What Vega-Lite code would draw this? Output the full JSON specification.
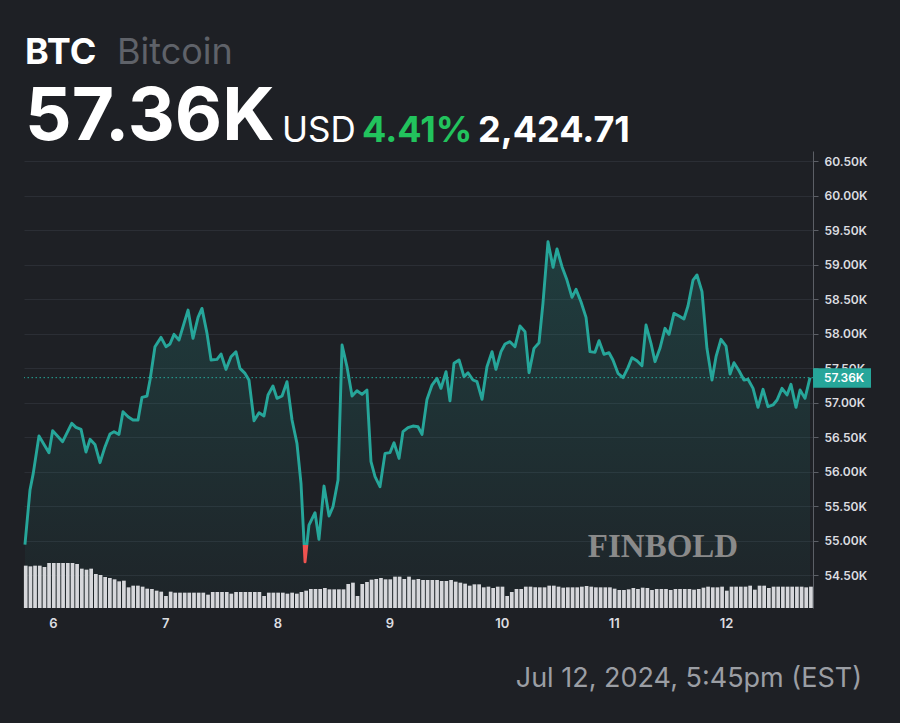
{
"$schema":"https://vega.github.io/schema/vega-lite/v6.json",
"width":789,"height":457,
"autosize":{"type":"none"},
"padding":{"left":24,"top":151,"right":87,"bottom":115},
"background":"#1e2025",
"config":{"view":{"stroke":null},"font":"Inter","text":{"font":"Inter"},"scale":{"continuousPadding":0}},
"datasets":{
"one":[{}],
"price":[
{"day":5.750,"price":54940},{"day":5.795,"price":55732},{"day":5.824,"price":55973},{"day":5.875,"price":56514},{"day":5.964,"price":56273},{"day":5.997,"price":56591},{"day":6.086,"price":56432},{"day":6.167,"price":56698},{"day":6.205,"price":56640},{"day":6.250,"price":56611},{"day":6.294,"price":56282},{"day":6.330,"price":56466},{"day":6.374,"price":56393},{"day":6.419,"price":56128},{"day":6.464,"price":56360},{"day":6.508,"price":56543},{"day":6.544,"price":56577},{"day":6.588,"price":56538},{"day":6.624,"price":56867},{"day":6.669,"price":56794},{"day":6.713,"price":56746},{"day":6.758,"price":56746},{"day":6.793,"price":57074},{"day":6.838,"price":57094},{"day":6.865,"price":57326},{"day":6.909,"price":57809},{"day":6.963,"price":57944},{"day":7.007,"price":57809},{"day":7.043,"price":57847},{"day":7.079,"price":57988},{"day":7.123,"price":57905},{"day":7.168,"price":58147},{"day":7.204,"price":58340},{"day":7.248,"price":57930},{"day":7.293,"price":58234},{"day":7.328,"price":58364},{"day":7.373,"price":58002},{"day":7.409,"price":57616},{"day":7.462,"price":57625},{"day":7.498,"price":57703},{"day":7.542,"price":57480},{"day":7.587,"price":57664},{"day":7.631,"price":57736},{"day":7.667,"price":57495},{"day":7.712,"price":57422},{"day":7.747,"price":57326},{"day":7.792,"price":56736},{"day":7.837,"price":56852},{"day":7.881,"price":56804},{"day":7.917,"price":57108},{"day":7.961,"price":57239},{"day":7.997,"price":57060},{"day":8.042,"price":57094},{"day":8.086,"price":57302},{"day":8.131,"price":56746},{"day":8.175,"price":56408},{"day":8.211,"price":55828},{"day":8.247,"price":54690},{"day":8.282,"price":55224},{"day":8.336,"price":55403},{"day":8.371,"price":55016},{"day":8.416,"price":55789},{"day":8.461,"price":55355},{"day":8.496,"price":55490},{"day":8.541,"price":55876},{"day":8.577,"price":57833},{"day":8.621,"price":57519},{"day":8.666,"price":57094},{"day":8.710,"price":57171},{"day":8.755,"price":57118},{"day":8.799,"price":57181},{"day":8.835,"price":56142},{"day":8.871,"price":55925},{"day":8.915,"price":55780},{"day":8.960,"price":56263},{"day":9.004,"price":56273},{"day":9.040,"price":56417},{"day":9.085,"price":56190},{"day":9.120,"price":56577},{"day":9.165,"price":56635},{"day":9.209,"price":56659},{"day":9.254,"price":56649},{"day":9.290,"price":56538},{"day":9.334,"price":57045},{"day":9.379,"price":57253},{"day":9.423,"price":57350},{"day":9.459,"price":57205},{"day":9.504,"price":57446},{"day":9.539,"price":57024},{"day":9.575,"price":57568},{"day":9.620,"price":57616},{"day":9.664,"price":57374},{"day":9.700,"price":57432},{"day":9.744,"price":57326},{"day":9.780,"price":57302},{"day":9.825,"price":57046},{"day":9.869,"price":57519},{"day":9.914,"price":57737},{"day":9.949,"price":57481},{"day":9.994,"price":57737},{"day":10.030,"price":57848},{"day":10.074,"price":57882},{"day":10.119,"price":57809},{"day":10.163,"price":58109},{"day":10.208,"price":58027},{"day":10.244,"price":57432},{"day":10.288,"price":57785},{"day":10.333,"price":57867},{"day":10.368,"price":58437},{"day":10.413,"price":59331},{"day":10.458,"price":58959},{"day":10.493,"price":59225},{"day":10.538,"price":58969},{"day":10.582,"price":58775},{"day":10.627,"price":58524},{"day":10.663,"price":58640},{"day":10.707,"price":58461},{"day":10.752,"price":58234},{"day":10.787,"price":57737},{"day":10.832,"price":57727},{"day":10.868,"price":57896},{"day":10.912,"price":57698},{"day":10.957,"price":57722},{"day":10.992,"price":57616},{"day":11.037,"price":57423},{"day":11.082,"price":57360},{"day":11.126,"price":57505},{"day":11.162,"price":57650},{"day":11.206,"price":57606},{"day":11.251,"price":57534},{"day":11.287,"price":58123},{"day":11.331,"price":57858},{"day":11.367,"price":57592},{"day":11.411,"price":57785},{"day":11.456,"price":58075},{"day":11.492,"price":57988},{"day":11.536,"price":58292},{"day":11.581,"price":58254},{"day":11.625,"price":58210},{"day":11.661,"price":58399},{"day":11.706,"price":58775},{"day":11.741,"price":58848},{"day":11.786,"price":58606},{"day":11.830,"price":57785},{"day":11.875,"price":57326},{"day":11.911,"price":57664},{"day":11.955,"price":57916},{"day":12.000,"price":57819},{"day":12.036,"price":57413},{"day":12.071,"price":57577},{"day":12.116,"price":57461},{"day":12.160,"price":57326},{"day":12.196,"price":57336},{"day":12.241,"price":57205},{"day":12.285,"price":56930},{"day":12.330,"price":57191},{"day":12.374,"price":56940},{"day":12.419,"price":56964},{"day":12.455,"price":57036},{"day":12.499,"price":57205},{"day":12.544,"price":57109},{"day":12.579,"price":57263},{"day":12.624,"price":56930},{"day":12.660,"price":57181},{"day":12.704,"price":57060},{"day":12.749,"price":57360}
],
"volume":[
{"day":5.757,"vol":127},{"day":5.799,"vol":125},{"day":5.840,"vol":127},{"day":5.882,"vol":127},{"day":5.924,"vol":123},{"day":5.965,"vol":135},{"day":6.007,"vol":135},{"day":6.049,"vol":135},{"day":6.090,"vol":135},{"day":6.132,"vol":135},{"day":6.174,"vol":135},{"day":6.215,"vol":132},{"day":6.257,"vol":118},{"day":6.299,"vol":115},{"day":6.340,"vol":118},{"day":6.382,"vol":102},{"day":6.424,"vol":99},{"day":6.465,"vol":93},{"day":6.507,"vol":90},{"day":6.549,"vol":86},{"day":6.590,"vol":80},{"day":6.632,"vol":82},{"day":6.674,"vol":62},{"day":6.715,"vol":67},
{"day":6.757,"vol":67},{"day":6.799,"vol":64},{"day":6.840,"vol":58},{"day":6.882,"vol":57},{"day":6.924,"vol":52},{"day":6.965,"vol":49},{"day":7.007,"vol":36},{"day":7.049,"vol":49},{"day":7.090,"vol":46},{"day":7.132,"vol":46},{"day":7.174,"vol":46},{"day":7.215,"vol":46},{"day":7.257,"vol":46},{"day":7.299,"vol":46},{"day":7.340,"vol":46},{"day":7.382,"vol":40},{"day":7.424,"vol":48},{"day":7.465,"vol":48},{"day":7.507,"vol":48},{"day":7.549,"vol":48},{"day":7.590,"vol":43},{"day":7.632,"vol":48},{"day":7.674,"vol":48},{"day":7.715,"vol":48},
{"day":7.757,"vol":48},{"day":7.799,"vol":48},{"day":7.840,"vol":48},{"day":7.882,"vol":36},{"day":7.924,"vol":46},{"day":7.965,"vol":46},{"day":8.007,"vol":46},{"day":8.049,"vol":46},{"day":8.090,"vol":43},{"day":8.132,"vol":46},{"day":8.174,"vol":43},{"day":8.215,"vol":48},{"day":8.257,"vol":52},{"day":8.299,"vol":57},{"day":8.340,"vol":57},{"day":8.382,"vol":57},{"day":8.424,"vol":60},{"day":8.465,"vol":56},{"day":8.507,"vol":56},{"day":8.549,"vol":56},{"day":8.590,"vol":56},{"day":8.632,"vol":72},{"day":8.674,"vol":76},{"day":8.715,"vol":36},
{"day":8.757,"vol":72},{"day":8.799,"vol":78},{"day":8.840,"vol":85},{"day":8.882,"vol":87},{"day":8.924,"vol":90},{"day":8.965,"vol":86},{"day":9.007,"vol":86},{"day":9.049,"vol":94},{"day":9.090,"vol":94},{"day":9.132,"vol":87},{"day":9.174,"vol":94},{"day":9.215,"vol":85},{"day":9.257,"vol":87},{"day":9.299,"vol":84},{"day":9.340,"vol":84},{"day":9.382,"vol":84},{"day":9.424,"vol":84},{"day":9.465,"vol":81},{"day":9.507,"vol":81},{"day":9.549,"vol":84},{"day":9.590,"vol":79},{"day":9.632,"vol":76},{"day":9.674,"vol":73},{"day":9.715,"vol":67},
{"day":9.757,"vol":71},{"day":9.799,"vol":71},{"day":9.840,"vol":62},{"day":9.882,"vol":64},{"day":9.924,"vol":60},{"day":9.965,"vol":64},{"day":10.007,"vol":64},{"day":10.049,"vol":36},{"day":10.090,"vol":48},{"day":10.132,"vol":57},{"day":10.174,"vol":57},{"day":10.215,"vol":64},{"day":10.257,"vol":64},{"day":10.299,"vol":62},{"day":10.340,"vol":62},{"day":10.382,"vol":62},{"day":10.424,"vol":67},{"day":10.465,"vol":67},{"day":10.507,"vol":64},{"day":10.549,"vol":61},{"day":10.590,"vol":62},{"day":10.632,"vol":62},{"day":10.674,"vol":62},{"day":10.715,"vol":64},
{"day":10.757,"vol":66},{"day":10.799,"vol":64},{"day":10.840,"vol":62},{"day":10.882,"vol":62},{"day":10.924,"vol":62},{"day":10.965,"vol":62},{"day":11.007,"vol":58},{"day":11.049,"vol":54},{"day":11.090,"vol":54},{"day":11.132,"vol":56},{"day":11.174,"vol":60},{"day":11.215,"vol":57},{"day":11.257,"vol":61},{"day":11.299,"vol":60},{"day":11.340,"vol":54},{"day":11.382,"vol":57},{"day":11.424,"vol":57},{"day":11.465,"vol":57},{"day":11.507,"vol":54},{"day":11.549,"vol":57},{"day":11.590,"vol":57},{"day":11.632,"vol":57},{"day":11.674,"vol":57},{"day":11.715,"vol":55},
{"day":11.757,"vol":57},{"day":11.799,"vol":61},{"day":11.840,"vol":64},{"day":11.882,"vol":62},{"day":11.924,"vol":62},{"day":11.965,"vol":64},{"day":12.007,"vol":52},{"day":12.049,"vol":64},{"day":12.090,"vol":64},{"day":12.132,"vol":64},{"day":12.174,"vol":64},{"day":12.215,"vol":67},{"day":12.257,"vol":55},{"day":12.299,"vol":67},{"day":12.340,"vol":67},{"day":12.382,"vol":60},{"day":12.424,"vol":64},{"day":12.465,"vol":64},{"day":12.507,"vol":64},{"day":12.549,"vol":64},{"day":12.590,"vol":64},{"day":12.632,"vol":64},{"day":12.674,"vol":64},{"day":12.715,"vol":62},
{"day":12.757,"vol":64}
]
},
"layer":[
{"layer":[
{"data":{"name":"price"},
 "mark":{"type":"area","color":{"gradient":"linear","x1":0,"y1":0,"x2":0,"y2":1,"stops":[{"offset":0,"color":"rgba(38,166,154,0.22)"},{"offset":1,"color":"rgba(38,166,154,0.03)"}]}},
 "encoding":{
  "x":{"field":"day","type":"quantitative","scale":{"domain":[5.7415,12.7755],"nice":false,"zero":false,"padding":0},"title":null,
   "axis":{"values":[6,7,8,9,10,11,12],"tickCount":20,"format":"d","domain":false,"ticks":false,"grid":false,"labelColor":"#dcdde0","labelFontSize":13,"labelFontWeight":600,"labelFont":"Inter","labelPadding":9}},
  "y":{"field":"price","type":"quantitative","scale":{"domain":[54022,60645],"nice":false,"zero":false},"title":null,
   "axis":{"orient":"right","values":[54500,55000,55500,56000,56500,57000,57500,58000,58500,59000,59500,60000,60500],"tickCount":30,"labelExpr":"format(datum.value/1000,'.2f')+'K'","labelOverlap":false,"grid":true,"gridColor":"#2b2e35","gridWidth":1,"domainColor":"#5c5f66","tickColor":"#5c5f66","tickSize":5,"labelColor":"#dcdde0","labelFontSize":12,"labelFont":"Inter","labelFontWeight":600,"labelPadding":6}},
  "y2":{"datum":54022}
 }},
{"data":{"name":"price"},
 "mark":{"type":"line","strokeWidth":2.9,"strokeJoin":"round","color":{"gradient":"linear","x1":0,"y1":0,"x2":0,"y2":1,"stops":[{"offset":0,"color":"#26a69a"},{"offset":0.947,"color":"#26a69a"},{"offset":0.947,"color":"#ef5350"},{"offset":1,"color":"#ef5350"}]}},
 "encoding":{
  "x":{"field":"day","type":"quantitative","scale":{"domain":[5.7415,12.7755],"nice":false,"zero":false,"padding":0},"title":null},
  "y":{"field":"price","type":"quantitative","scale":{"domain":[54022,60645],"nice":false,"zero":false},"title":null}
 }},
{"data":{"name":"one"},
 "mark":{"type":"rule","color":"#26a69a","strokeDash":[1.5,2.5],"strokeWidth":1},
 "encoding":{"y":{"datum":57360,"scale":{"domain":[54022,60645],"nice":false,"zero":false}}}},
{"data":{"name":"one"},
 "mark":{"type":"rect","color":"#26a69a"},
 "encoding":{
  "x":{"datum":12.7755,"scale":{"domain":[5.7415,12.7755],"nice":false,"zero":false,"padding":0}},"x2":{"datum":13.2926},
  "y":{"datum":57496,"scale":{"domain":[54022,60645],"nice":false,"zero":false}},"y2":{"datum":57214}}},
{"data":{"name":"one"},
 "mark":{"type":"text","text":"57.36K","align":"left","baseline":"middle","fontSize":12,"fontWeight":600,"color":"#ffffff"},
 "encoding":{"x":{"datum":12.8736},"y":{"datum":57360}}},
{"data":{"name":"one"},
 "mark":{"type":"text","text":"BTC","align":"left","baseline":"alphabetic","fontSize":36,"fontWeight":"bold","color":"#ffffff"},
 "encoding":{"x":{"datum":5.7504},"y":{"datum":61906}}},
{"data":{"name":"one"},
 "mark":{"type":"text","text":"Bitcoin","align":"left","baseline":"alphabetic","fontSize":36,"fontWeight":"normal","color":"#5f6269"},
 "encoding":{"x":{"datum":6.5706},"y":{"datum":61906}}},
{"data":{"name":"one"},
 "mark":{"type":"text","text":"57.36K","align":"left","baseline":"alphabetic","fontSize":73,"fontWeight":"bold","color":"#ffffff"},
 "encoding":{"x":{"datum":5.7504},"y":{"datum":60804}}},
{"data":{"name":"one"},
 "mark":{"type":"text","text":"USD","align":"left","baseline":"alphabetic","fontSize":35,"fontWeight":"normal","color":"#ffffff"},
 "encoding":{"x":{"datum":8.0416},"y":{"datum":60775}}},
{"data":{"name":"one"},
 "mark":{"type":"text","text":"4.41%","align":"left","baseline":"alphabetic","fontSize":36,"fontWeight":"bold","color":"#22c35d"},
 "encoding":{"x":{"datum":8.7548},"y":{"datum":60775}}},
{"data":{"name":"one"},
 "mark":{"type":"text","text":"2,424.71","align":"left","baseline":"alphabetic","fontSize":36,"fontWeight":"bold","color":"#ffffff"},
 "encoding":{"x":{"datum":9.789},"y":{"datum":60775}}},
{"data":{"name":"one"},
 "mark":{"type":"text","text":"FINBOLD","align":"center","baseline":"alphabetic","font":"Liberation Serif","fontSize":33,"fontWeight":"bold","letterSpacing":-5,"color":"#8a8a8a"},
 "encoding":{"x":{"datum":11.4383},"y":{"datum":54761}}},
{"data":{"name":"one"},
 "mark":{"type":"text","text":"Jul 12, 2024, 5:45pm (EST)","align":"right","baseline":"alphabetic","fontSize":27,"fontWeight":"normal","color":"#9b9ea4"},
 "encoding":{"x":{"datum":13.2124},"y":{"datum":52877}}}
]},
{"data":{"name":"volume"},
 "mark":{"type":"bar","width":3.7,"color":"#d6d7db"},
 "encoding":{
  "x":{"field":"day","type":"quantitative","scale":{"domain":[5.7415,12.7755],"nice":false,"zero":false,"padding":0},"title":null},
  "y":{"field":"vol","type":"quantitative","scale":{"domain":[0,1371],"nice":false},"axis":null}
 }}
],
"resolve":{"scale":{"y":"independent"}}
}
